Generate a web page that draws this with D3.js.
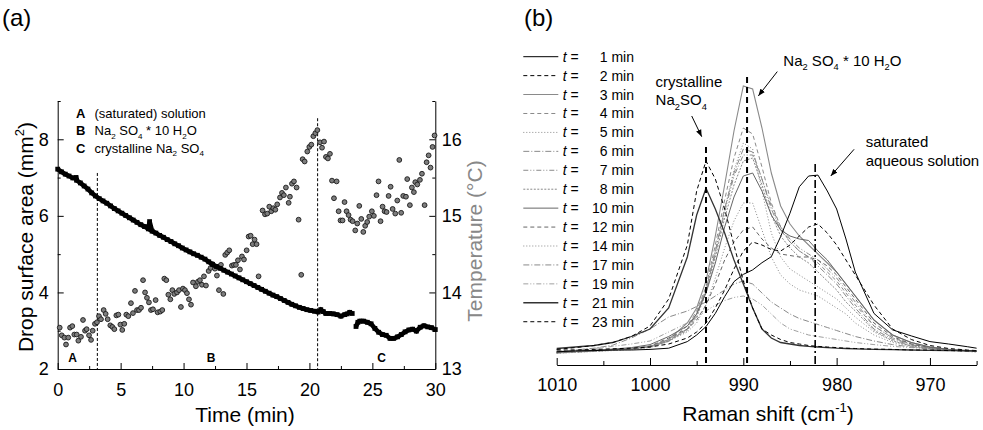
<!DOCTYPE html>
<html>
<head>
<meta charset="utf-8">
<title>Drop area / Raman spectra</title>
<script src="https://cdnjs.cloudflare.com/ajax/libs/d3/7.8.5/d3.min.js"></script>
<style>
  body { margin: 0; background: #fff; }
  svg { font-family: "Liberation Sans", Arial, sans-serif; }
  .axis path, .axis line { stroke: #000; stroke-width: 1; }
  .axis text { font-size: 18px; fill: #000; font-family: "Liberation Sans", Arial, sans-serif; }
</style>
</head>
<body>
<svg width="983" height="430"></svg>
<script>
// ---------- panel (a) : drop surface area and temperature ----------
var areaTime = [0,0.3,0.6,0.9,1.2,1.46,1.5,1.8,2.1,2.4,2.7,3.0,3.3,3.6,3.9,4.2,4.5,4.8,5.1,5.4,5.7,6.0,6.3,6.6,6.9,7.2,7.3,
  7.5,7.8,8.1,8.4,8.7,9.0,9.3,9.6,9.9,10.2,10.5,10.8,11.1,11.4,11.7,12.0,12.3,12.6,12.9,13.2,13.5,13.8,14.1,14.4,14.7,
  15.0,15.3,15.6,15.9,16.2,16.5,16.8,17.1,17.4,17.7,18.0,18.3,18.6,18.9,19.2,19.5,19.8,20.1,20.4,20.7,
  20.9,21.1,21.3,21.6,21.9,22.2,22.5,22.8,23.0,23.2,23.4,23.55,23.7,23.85,
  24.0,24.3,24.6,24.9,25.2,25.5,25.8,26.1,26.4,26.7,27.0,27.3,27.6,27.9,28.2,28.5,28.8,29.1,29.4,29.7,30.0];
var areaVal = [7.22,7.15,7.09,7.04,6.99,7.00,6.93,6.86,6.78,6.70,6.60,6.52,6.45,6.39,6.33,6.26,6.19,6.13,6.07,6.01,5.95,5.89,5.83,5.77,5.72,5.66,5.85,
  5.60,5.55,5.49,5.44,5.38,5.33,5.27,5.22,5.16,5.11,5.06,5.01,4.97,4.92,4.87,4.80,4.73,4.68,4.63,4.58,4.53,4.48,4.43,4.38,4.33,
  4.28,4.23,4.18,4.13,4.08,4.03,3.98,3.93,3.89,3.84,3.79,3.74,3.69,3.65,3.61,3.58,3.55,3.53,3.51,3.49,
  3.55,3.50,3.45,3.45,3.44,3.42,3.38,3.42,3.44,3.48,3.45,null,3.11,3.22,
  3.25,3.25,3.22,3.18,3.06,2.96,2.90,2.88,2.80,2.80,2.84,2.90,2.97,3.02,3.04,2.99,3.09,3.13,3.10,3.08,3.03];

var tempTime = [0.16,0.32,0.53,0.66,0.84,0.98,1.16,1.32,1.51,1.64,1.85,2.01,2.17,2.30,2.49,2.65,2.78,2.96,3.12,3.28,3.44,3.65,3.81,3.97,
  4.18,4.34,4.50,4.66,4.82,4.98,5.13,5.29,5.45,5.61,5.82,5.98,6.14,6.30,6.46,6.62,6.78,6.94,7.09,7.25,7.41,7.57,7.78,7.94,
  8.15,8.31,8.47,8.63,8.79,8.95,9.11,9.26,9.48,9.64,9.79,9.95,10.11,10.27,10.43,10.59,10.75,10.98,11.14,11.30,11.46,11.62,11.78,
  11.99,12.15,12.31,12.49,12.65,12.81,12.97,13.16,13.31,13.47,13.63,13.84,14.00,14.16,14.32,14.48,14.64,14.80,15.01,15.17,15.33,
  15.49,15.64,15.80,15.96,16.28,16.47,16.65,16.81,16.97,17.13,17.29,17.44,17.66,17.82,17.97,18.13,18.35,18.45,18.61,18.77,18.98,
  19.14,19.35,19.46,19.62,19.83,19.99,20.15,20.31,20.47,20.63,20.84,21.00,21.16,21.31,21.47,21.63,21.79,21.95,22.16,22.32,22.47,
  22.63,22.79,22.95,23.11,23.27,23.43,23.64,23.80,23.96,24.12,24.28,24.43,24.59,24.75,24.96,25.12,25.33,25.49,25.65,25.81,25.97,
  26.13,26.29,26.45,26.61,26.82,26.98,27.14,27.29,27.45,27.67,27.77,27.98,28.14,28.30,28.41,28.57,28.78,28.94,29.15,29.31,29.47,
  29.62,29.78,29.94];
var tempVal = [13.54,13.44,13.41,13.32,13.41,13.54,13.56,13.45,13.45,13.37,13.42,13.64,13.50,13.52,13.44,13.38,13.50,13.59,13.61,13.69,13.65,13.77,13.72,13.65,
  13.57,13.55,13.52,13.70,13.71,13.58,13.51,13.59,13.71,13.69,13.86,13.73,14.02,13.77,13.77,13.80,14.16,14.00,13.93,13.87,13.77,13.78,13.90,13.74,
  13.75,13.77,14.18,14.16,13.97,13.91,14.03,13.98,14.00,14.03,13.81,14.05,14.03,13.99,13.91,13.84,14.13,14.08,14.14,14.16,14.10,14.21,14.09,
  14.28,14.32,14.37,14.31,14.22,14.03,14.36,13.98,14.49,14.52,14.55,14.35,14.36,14.36,14.42,14.30,14.47,14.43,14.55,14.73,14.74,
  14.63,14.69,14.63,14.21,15.07,15.02,15.03,15.12,15.06,15.10,15.08,15.15,15.24,15.30,15.27,15.37,15.17,15.25,15.42,15.45,15.37,
  14.95,14.23,15.74,15.71,15.84,15.90,15.93,16.04,16.08,16.12,15.96,15.89,15.97,15.77,15.75,15.81,15.46,15.23,15.45,15.06,14.94,
  14.94,15.18,15.06,15.01,14.95,14.93,14.81,14.90,15.13,14.96,14.79,14.87,14.92,14.99,15.06,15.00,15.27,15.45,14.93,15.12,15.06,
  15.05,15.26,15.38,15.09,15.03,15.20,15.73,15.04,15.26,15.25,15.48,15.14,15.37,15.31,15.44,15.41,15.47,15.55,15.14,15.70,15.79,
  15.63,15.90,16.05];

var phaseTime = [3.15, 20.65];
var phaseTop = [7.12, 8.55];
var phaseLetters = ["A", "B", "C"];
var phaseLetterTime = [1.19, 12.18, 25.73];

var timeMajor = [0, 5, 10, 15, 20, 25, 30];
var timeMinor = [2.5, 7.5, 12.5, 17.5, 22.5, 27.5];
var areaMajor = [2, 4, 6, 8];
var areaMinor = [3, 5, 7, 9];
var tempMajor = [13, 14, 15, 16];
var tempMinor = [13.5, 14.5, 15.5, 16.5];

// ---------- panel (b) : Raman spectra ----------
var shifts = [1010,1008,1006,1004,1002,1000,998,996,995,994,993,992,991,990,989,988,987,986,985,984,983,982,981,980,979,978,976,974,972,970,968,966,965];
var spec1  = [4.4,4.7,4.8,5.0,5.0,5.2,5.6,7.8,10,12.8,17.2,22.8,27.8,30.2,31.7,34.1,36.1,42.8,50.6,59.4,63,63.3,58,52,42,31,17.2,11.7,9.7,7.8,7,6.1,5.6];
var spec2  = [5.0,5.0,5.2,5.4,5.6,6.0,7.0,9.0,11,14,19,25,32,38,41,40,38.5,38,40,43,46,47,44,40,35,30,20,12,8.5,6.5,5.5,5.0,4.8];
var spec3  = [4.2,4.5,4.8,5.0,5.4,6.2,8.5,14,19,28,43,60,78,93,92,79,64,53,47,43,40,37,34,31,27,23,15,10,7.5,6,5.2,4.8,4.6];
var spec4  = [4.0,4.3,4.6,4.9,5.3,6.0,8,13,18,26,40,55,69,79,77,66,54,46,41,38,36,34,31,28,24,20,13,9,7,5.8,5.0,4.6,4.5];
var spec5  = [3.9,4.2,4.5,4.8,5.2,5.8,7.8,12,17,25,38,52,65,74,72,58,44,36,32,30,28,26,24,22,19,16,11,8,6.5,5.5,4.9,4.5,4.4];
var spec6  = [4.1,4.4,4.7,5.0,5.4,6.0,8,12,17,25,38,52,64,72,71,62,52,45,41,38,36,33,30,27,23,19,12,8.5,6.6,5.6,5.0,4.6,4.5];
var spec7  = [4.3,4.6,4.9,5.2,5.6,6.3,8.3,12,17,25,37,51,63,70,70,62,53,46,42,39,37,35,32,29,25,21,13,9,6.8,5.7,5.1,4.7,4.6];
var spec8  = [4.0,4.3,4.6,4.9,5.3,6.0,8,11.5,16,24,36,49,60,68,69,60,50,43,39,36,34,31,28,25,21,18,11.5,8,6.3,5.4,4.9,4.5,4.4];
var spec10 = [4.3,4.6,4.9,5.3,5.8,6.8,9.5,13,17,24,34,46,56,63,64,58,50,45,43,42,41.5,38,35,31,27,23,15,10,7.5,6,5.2,4.8,4.6];
var spec12 = [4.2,4.5,4.8,5.1,5.5,6.3,9,12,15,20,27,35,41,45,46,42,39,37,36.5,36,36,35,33,30,26,22,14,9.5,7,5.8,5.1,4.7,4.6];
var spec14 = [4.0,4.3,4.6,4.9,5.3,6.0,8,11,14,20,29,39,48,54,54,45,36,30,27,25,24,23,21,19,17,14,10,7.5,6.2,5.4,4.9,4.6,4.5];
var spec17 = [4.5,5,5.6,6.6,9,12,16,18,19.5,21,23,25,27,28,27,24,21,19,17,15.5,14.5,13.5,12.5,11.5,10.5,9.5,8,6.8,6,5.4,5,4.7,4.6];
var spec19 = [4.6,5,5.5,6.2,7,8,11,14,16,18,20,21.5,22.5,23,22,20,17,14,12,11,10,9.5,9,8.5,8,7.5,6.8,6.2,5.8,5.4,5,4.8,4.7];
var spec21 = [5.5,6,6.5,7.5,9.5,12,19,36,50,58.9,52,44,35,27,19,12,9,7.5,7,6.5,6.2,6,5.8,5.6,5.5,5.4,5.2,5.1,5,4.9,4.8,4.8,4.7];
var spec23 = [5.2,5.8,6.5,7.5,9.5,13,22,40,58,68,62,52,40,28,19,12,10,8.5,7.5,7,6.5,6.2,6,5.8,5.6,5.5,5.3,5.2,5,5,4.8,4.7,4.7];

var legendMinutes = [1, 2, 3, 4, 5, 6, 7, 8, 10, 12, 14, 17, 19, 21, 23];
var spectra = [spec1, spec2, spec3, spec4, spec5, spec6, spec7, spec8, spec10, spec12, spec14, spec17, spec19, spec21, spec23];

var refShift = [994, 989.6, 982.3];
var refTop = [72.7, 96, 67];
var shiftMajor = [1010, 1000, 990, 980, 970];
var shiftMinor = [1005, 995, 985, 975, 965];

// line styles for the 15 spectra (same order as legendMinutes)
var gray = "#8a8a8a";
var styles = [
  { c: "#000", d: null, w: 1 },
  { c: "#000", d: "4,3", w: 1 },
  { c: gray, d: null, w: 1.1 },
  { c: gray, d: "4,3", w: 1 },
  { c: gray, d: "1,2", w: 1 },
  { c: gray, d: "6,2,1,2", w: 1 },
  { c: gray, d: "5,2,1,2,1,2", w: 1 },
  { c: gray, d: "2,1.5", w: 1 },
  { c: "#666", d: null, w: 1 },
  { c: "#666", d: "4,3", w: 1 },
  { c: gray, d: "1,2", w: 1 },
  { c: gray, d: "6,2,1,2", w: 1 },
  { c: "#a0a0a0", d: "5,2,1,2,1,2", w: 1 },
  { c: "#333", d: null, w: 1.3 },
  { c: "#000", d: "4,3", w: 1 }
];
var drawOrder = [12, 11, 10, 7, 6, 5, 4, 3, 2, 9, 8, 1, 0, 13, 14];

var svg = d3.select("svg");

// helper: text with sub/superscripts
function rich(g, x, y, parts, size) {
  var t = g.append("text").attr("x", x).attr("y", y).style("font-size", size + "px");
  var shift = 0;
  parts.forEach(function (p) {
    var target = p[1] === "sub" ? size * 0.3 : (p[1] === "sup" ? -size * 0.42 : 0);
    var s = t.append("tspan").attr("dy", target - shift).text(p[0]);
    if (p[1]) s.style("font-size", (size * 0.62) + "px");
    shift = target;
  });
  return t;
}

// ================= PANEL (a) =================
var xA = d3.scaleLinear().domain([0, 30]).range([57.7, 435.3]);
var yA = d3.scaleLinear().domain([2, 9]).range([369, 101]);
var yT = d3.scaleLinear().domain([13, 16.5]).range([369, 101]);

var ga = svg.append("g");

function drawAxis(g, axisFn, scale, major, minor, pad, transform) {
  var ax = g.append("g").attr("class", "axis").attr("transform", transform);
  ax.call(axisFn(scale).tickValues(major).tickSizeInner(-6).tickSizeOuter(0).tickPadding(pad).tickFormat(d3.format("d")));
  var mn = g.append("g").attr("class", "axis").attr("transform", transform);
  mn.call(axisFn(scale).tickValues(minor).tickSizeInner(-3).tickSizeOuter(0).tickFormat(""));
  mn.select(".domain").remove();
  return ax;
}

drawAxis(ga, d3.axisBottom, xA, timeMajor, timeMinor, 14, "translate(0,369)");
drawAxis(ga, d3.axisLeft, yA, areaMajor, areaMinor, 9, "translate(57.7,0)");
drawAxis(ga, d3.axisRight, yT, tempMajor, tempMinor, 6.5, "translate(435.3,0)");

// phase boundaries
ga.selectAll(".phase").data(phaseTime).enter().append("line")
  .attr("x1", function (d) { return xA(d); }).attr("x2", function (d) { return xA(d); })
  .attr("y1", function (d, i) { return yA(phaseTop[i]); }).attr("y2", yA(2))
  .attr("stroke", "#000").attr("stroke-width", 1).attr("stroke-dasharray", "3,2");

// temperature (open grey circles)
ga.selectAll(".temp").data(tempTime).enter().append("circle")
  .attr("cx", function (d) { return xA(d); })
  .attr("cy", function (d, i) { return yT(tempVal[i]); })
  .attr("r", 2.4)
  .attr("fill", "#7d7d7d").attr("stroke", "#1a1a1a").attr("stroke-width", 0.9);

// drop surface area (dense black squares)
var areaPts = areaTime.map(function (t, i) { return [t, areaVal[i]]; });
ga.append("path")
  .attr("d", d3.line().defined(function (d) { return d[1] !== null; })
    .x(function (d) { return xA(d[0]); }).y(function (d) { return yA(d[1]); })(areaPts))
  .attr("fill", "none").attr("stroke", "#000").attr("stroke-width", 4.6);
ga.selectAll(".sq").data(areaPts.filter(function (d) { return d[1] !== null; })).enter().append("rect")
  .attr("x", function (d) { return xA(d[0]) - 2.4; })
  .attr("y", function (d) { return yA(d[1]) - 2.4; })
  .attr("width", 4.8).attr("height", 4.8).attr("fill", "#000");

// phase letters
ga.selectAll(".pl").data(phaseLetters).enter().append("text")
  .attr("x", function (d, i) { return xA(phaseLetterTime[i]); })
  .attr("y", yA(2.17))
  .attr("text-anchor", "middle").style("font-size", "12px").style("font-weight", "bold")
  .text(function (d) { return d; });

// legend of phases
var lg = ga.append("g");
lg.append("text").attr("x", 76).attr("y", 118).style("font-size", "13px").style("font-weight", "bold").text("A");
lg.append("text").attr("x", 76).attr("y", 135).style("font-size", "13px").style("font-weight", "bold").text("B");
lg.append("text").attr("x", 76).attr("y", 152.5).style("font-size", "13px").style("font-weight", "bold").text("C");
rich(lg, 94.5, 118, [["(saturated) solution"]], 13);
rich(lg, 94.5, 135, [["Na"], ["2", "sub"], [" SO"], ["4", "sub"], [" * 10 H"], ["2", "sub"], ["O"]], 13);
rich(lg, 94.5, 152.5, [["crystalline Na"], ["2", "sub"], [" SO"], ["4", "sub"]], 13);

// axis titles
ga.append("text").attr("x", 245).attr("y", 422).attr("text-anchor", "middle")
  .style("font-size", "21px").text("Time (min)");
var yl = rich(ga, 0, 0, [["Drop surface area (mm"], ["2", "sup"], [")"]], 21);
yl.attr("text-anchor", "middle").attr("transform", "translate(33,237) rotate(-90)");
ga.append("text").attr("text-anchor", "middle").attr("transform", "translate(482,241) rotate(-90)")
  .style("font-size", "21px").attr("fill", "#888").text("Temperature (\u00B0C)");

svg.append("text").attr("x", 2).attr("y", 26).style("font-size", "24px").text("(a)");
svg.append("text").attr("x", 524).attr("y", 26).style("font-size", "24px").text("(b)");

// ================= PANEL (b) =================
var xB = d3.scaleLinear().domain([1010, 965]).range([556.7, 976.6]);
var yB = d3.scaleLinear().domain([0, 100]).range([365, 65]);
var gb = svg.append("g");

var axB = gb.append("g").attr("class", "axis").attr("transform", "translate(0,365)");
axB.call(d3.axisBottom(xB).tickValues(shiftMajor).tickSizeInner(-7).tickSizeOuter(0).tickPadding(13.5).tickFormat(d3.format("d")));
var axBm = gb.append("g").attr("class", "axis").attr("transform", "translate(0,365)");
axBm.call(d3.axisBottom(xB).tickValues(shiftMinor).tickSizeInner(-4).tickSizeOuter(0).tickFormat(""));
axBm.select(".domain").remove();

var specLine = d3.line().x(function (d) { return xB(d[0]); }).y(function (d) { return yB(d[1]); });
drawOrder.forEach(function (k) {
  var pts = shifts.map(function (s, i) { return [s, spectra[k][i]]; });
  gb.append("path").attr("d", specLine(pts)).attr("fill", "none")
    .attr("stroke", styles[k].c).attr("stroke-width", styles[k].w)
    .attr("stroke-dasharray", styles[k].d);
});

// reference lines
var refDash = ["6,4", "6,4", "8,3,2,3"];
gb.selectAll(".ref").data(refShift).enter().append("line")
  .attr("x1", function (d) { return xB(d); }).attr("x2", function (d) { return xB(d); })
  .attr("y1", function (d, i) { return yB(refTop[i]); }).attr("y2", yB(0))
  .attr("stroke", "#000").attr("stroke-width", function (d, i) { return i < 2 ? 2 : 1.6; })
  .attr("stroke-dasharray", function (d, i) { return refDash[i]; });

// legend
var lb = gb.append("g");
legendMinutes.forEach(function (m, i) {
  var by = 61.7 + i * 18.93;
  lb.append("line").attr("x1", 523.3).attr("x2", 558.3).attr("y1", by - 5).attr("y2", by - 5)
    .attr("stroke", styles[i].c).attr("stroke-width", styles[i].w === 1.3 ? 1.6 : styles[i].w)
    .attr("stroke-dasharray", styles[i].d);
  var t = lb.append("text").attr("x", 562.7).attr("y", by).style("font-size", "14px");
  t.append("tspan").style("font-style", "italic").text("t");
  t.append("tspan").text(" =");
  lb.append("text").attr("x", 634).attr("y", by).attr("text-anchor", "end").style("font-size", "14px").text(m + " min");
});

// annotations
var defs = svg.append("defs");
defs.append("marker").attr("id", "ah").attr("viewBox", "0 0 10 10").attr("refX", 10).attr("refY", 5)
  .attr("markerWidth", 7).attr("markerHeight", 7).attr("orient", "auto")
  .append("path").attr("d", "M0,1 L10,5 L0,9 Z").attr("fill", "#000");

var arrows = [[995.53, 83, 994.46, 76.1], [986.36, 97.8, 988.39, 89.7], [978.13, 71.9, 980.63, 63]];
gb.selectAll(".arr").data(arrows).enter().append("line")
  .attr("x1", function (d) { return xB(d[0]); }).attr("y1", function (d) { return yB(d[1]); })
  .attr("x2", function (d) { return xB(d[2]); }).attr("y2", function (d) { return yB(d[3]); })
  .attr("stroke", "#000").attr("stroke-width", 1).attr("marker-end", "url(#ah)");

rich(gb, xB(999.4), yB(92.8), [["crystalline"]], 15);
rich(gb, xB(999.4), yB(86.6), [["Na"], ["2", "sub"], ["SO"], ["4", "sub"]], 15);
rich(gb, xB(985.71), yB(99.7), [["Na"], ["2", "sub"], [" SO"], ["4", "sub"], [" * 10 H"], ["2", "sub"], ["O"]], 15);
rich(gb, xB(976.88), yB(72.8), [["saturated"]], 15);
rich(gb, xB(976.88), yB(66.4), [["aqueous solution"]], 15);

var xt = rich(gb, 768, 421, [["Raman shift "], ["("], ["cm"], ["-1", "sup"], [")"]], 21);
xt.attr("text-anchor", "middle");
</script>
</body>
</html>
